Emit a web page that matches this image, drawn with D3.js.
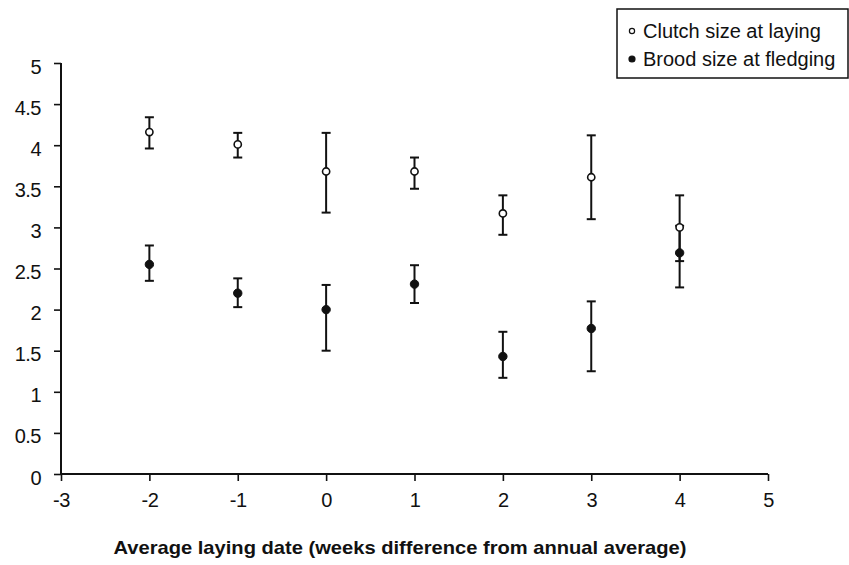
<!DOCTYPE html>
<html>
<head>
<meta charset="utf-8">
<script src="https://cdn.jsdelivr.net/npm/d3@7"></script>
<style>
  body { margin: 0; background: #fff; }
  svg { display: block; font-family: Arial, "Liberation Sans", sans-serif; }
</style>
</head>
<body>
<script>
// Données
const weeks = [-2, -1, 0, 1, 2, 3, 4];
const clutchMean = [4.16, 4.01, 3.68, 3.68, 3.17, 3.61, 3.00];
const clutchUpper = [4.34, 4.15, 4.15, 3.85, 3.39, 4.12, 3.39];
const clutchLower = [3.96, 3.85, 3.18, 3.47, 2.91, 3.10, 2.59];
const broodMean = [2.55, 2.20, 2.00, 2.31, 1.43, 1.77, 2.69];
const broodUpper = [2.78, 2.38, 2.30, 2.54, 1.73, 2.10, 3.02];
const broodLower = [2.35, 2.03, 1.50, 2.08, 1.17, 1.25, 2.27];
const xTicks = [-3, -2, -1, 0, 1, 2, 3, 4, 5];
const yTicks = [0, 0.5, 1, 1.5, 2, 2.5, 3, 3.5, 4, 4.5, 5];
const legendLabels = ['Clutch size at laying', 'Brood size at fledging'];
const xTitle = 'Average laying date (weeks difference from annual average)';

const svgWidth = 849, svgHeight = 565;
const margin = { top: 63, right: 81, bottom: 91, left: 61 };
const width = svgWidth - margin.left - margin.right;
const height = svgHeight - margin.top - margin.bottom;

const svg = d3.select('body').append('svg')
    .attr('width', svgWidth)
    .attr('height', svgHeight);

const g = svg.append('g')
    .attr('transform', `translate(${margin.left},${margin.top})`);

// Escalas
const xScale = d3.scaleLinear().domain([-3, 5]).range([0, width]);
const yScale = d3.scaleLinear().domain([0, 5]).range([height, 0]);

// Eixos (hífen simples, como no original)
const xAxis = g.append('g')
    .attr('transform', `translate(0,${height})`)
    .call(d3.axisBottom(xScale).tickValues(xTicks).tickSize(7).tickPadding(12).tickFormat(d => String(d)));
const yAxis = g.append('g')
    .call(d3.axisLeft(yScale).tickValues(yTicks).tickSize(7).tickPadding(13).tickFormat(d => String(d)));

[xAxis, yAxis].forEach(a => {
    a.select('.domain').attr('stroke', '#111').attr('stroke-width', 2);
    a.selectAll('.tick line').attr('stroke', '#111').attr('stroke-width', 1.6);
    a.selectAll('.tick text').attr('font-size', 20).attr('fill', '#111')
        .attr('letter-spacing', -0.5)
        .attr('font-family', 'Arial, "Liberation Sans", sans-serif');
});
yAxis.selectAll('.tick text').attr('dy', '0.5em');
// sem marcas nas pontas do eixo
xAxis.select('.domain').attr('d', `M0,0H${width}`);
yAxis.select('.domain').attr('d', `M0,${height}V0`);

// Barres d'erreur + points
function drawSeries(mean, upper, lower, filled) {
    const cap = 4.5;
    const rows = weeks.map((w, i) => ({ w, m: mean[i], hi: upper[i], lo: lower[i] }));
    const s = g.append('g');
    s.selectAll('.bar').data(rows).enter().append('line')
        .attr('x1', d => xScale(d.w)).attr('x2', d => xScale(d.w))
        .attr('y1', d => yScale(d.hi)).attr('y2', d => yScale(d.lo))
        .attr('stroke', '#111').attr('stroke-width', 2);
    ['hi', 'lo'].forEach(k => {
        s.selectAll('.cap-' + k).data(rows).enter().append('line')
            .attr('x1', d => xScale(d.w) - cap).attr('x2', d => xScale(d.w) + cap)
            .attr('y1', d => yScale(d[k])).attr('y2', d => yScale(d[k]))
            .attr('stroke', '#111').attr('stroke-width', 2);
    });
    s.selectAll('.pt').data(rows).enter().append('circle')
        .attr('cx', d => xScale(d.w)).attr('cy', d => yScale(d.m))
        .attr('r', filled ? 4.2 : 3.6)
        .attr('fill', filled ? '#111' : '#fff')
        .attr('stroke', '#111').attr('stroke-width', filled ? 1 : 1.6);
}
drawSeries(broodMean, broodUpper, broodLower, true);
drawSeries(clutchMean, clutchUpper, clutchLower, false);

// Titre de l'axe X
svg.append('text')
    .attr('x', 400).attr('y', 554)
    .attr('text-anchor', 'middle')
    .attr('font-size', 19).attr('font-weight', 'bold')
    .attr('textLength', 573).attr('lengthAdjust', 'spacingAndGlyphs')
    .attr('fill', '#111')
    .text(xTitle);

// Légende
const legend = svg.append('g').attr('transform', 'translate(617,9)');
legend.append('rect')
    .attr('width', 231).attr('height', 69)
    .attr('fill', '#fff').attr('stroke', '#111').attr('stroke-width', 1.5);
legendLabels.forEach((lab, i) => {
    const y = 22 + i * 28;
    legend.append('circle')
        .attr('cx', 15).attr('cy', y)
        .attr('r', i === 0 ? 2.6 : 3)
        .attr('fill', i === 0 ? '#fff' : '#111')
        .attr('stroke', '#111').attr('stroke-width', 1.2);
    legend.append('text')
        .attr('x', 26).attr('y', y + 7)
        .attr('font-size', 20).attr('fill', '#111')
        .text(lab);
});
</script>
</body>
</html>
